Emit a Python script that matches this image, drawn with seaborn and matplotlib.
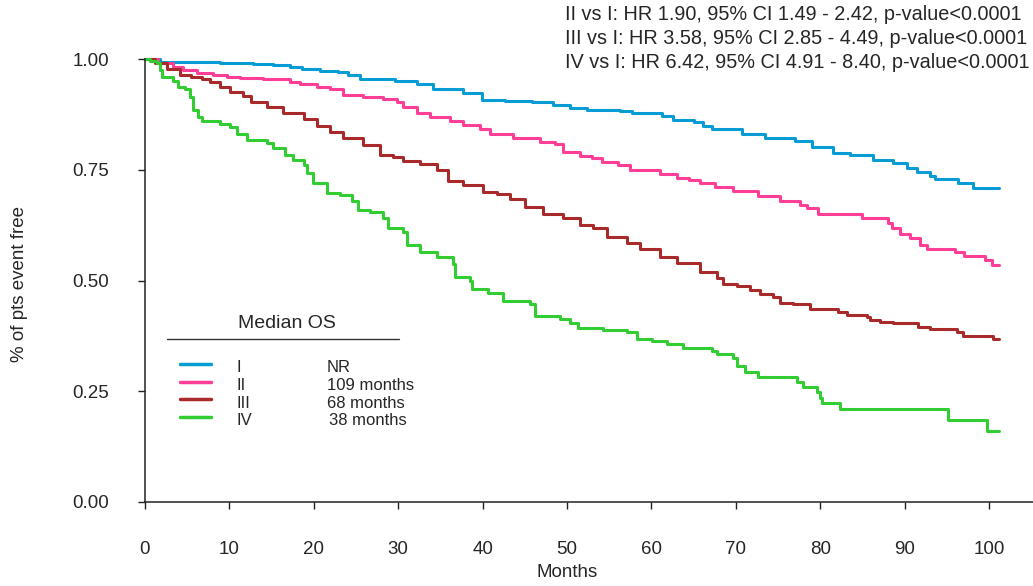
import pandas as pd
import matplotlib
matplotlib.use("Agg")
import matplotlib.pyplot as plt
import seaborn as sns

sns.set_style("ticks")
plt.rcParams["font.family"] = ["Liberation Sans", "DejaVu Sans"]

# groups, colours, legend text
stages = ["I", "II", "III", "IV"]
medians = ["NR", "109 months", "68 months", "38 months"]
colors = ["#079cd4", "#ff3f97", "#a82a2a", "#32cd32"]
hr_lines = [
    "II vs I: HR 1.90, 95% CI 1.49 - 2.42, p-value<0.0001",
    "III vs I: HR 3.58, 95% CI 2.85 - 4.49, p-value<0.0001",
    "IV vs I: HR 6.42, 95% CI 4.91 - 8.40, p-value<0.0001",
]

# Kaplan-Meier steps (month of step, new survival)
months_I = [0, 1.8, 8.9, 12.8, 15.2, 17.2, 18.6, 20.7, 22.9, 24.0, 25.5, 29.6, 32.2, 34.1,
            37.7, 39.9, 42.7, 45.9, 48.3, 50.4, 52.4, 56.3, 57.7, 61.3, 62.6, 65.0, 66.1,
            67.2, 70.7, 73.5, 77.0, 79.0, 81.5, 83.5, 86.3, 88.6, 90.3, 91.5, 93.0, 93.6,
            96.3, 98.1, 101.2]
surv_I = [1.0, 0.993, 0.990, 0.988, 0.986, 0.981, 0.977, 0.974, 0.971, 0.964, 0.954, 0.950,
          0.944, 0.932, 0.923, 0.907, 0.905, 0.902, 0.896, 0.890, 0.886, 0.883, 0.877, 0.872,
          0.862, 0.858, 0.849, 0.842, 0.830, 0.822, 0.815, 0.802, 0.788, 0.783, 0.773, 0.766,
          0.753, 0.745, 0.736, 0.728, 0.721, 0.708, 0.708]

months_II = [0, 1.5, 3.3, 4.5, 6.2, 8.1, 9.7, 11.3, 14.0, 17.2, 18.4, 20.4, 21.9, 23.5, 25.8,
             28.2, 29.8, 30.6, 32.2, 33.8, 36.1, 37.7, 39.7, 40.9, 43.6, 46.8, 48.6, 49.5,
             51.5, 53.0, 54.1, 56.0, 57.5, 61.0, 63.0, 64.5, 65.8, 67.5, 69.7, 72.6, 75.2,
             77.6, 78.4, 79.7, 85.0, 88.0, 88.5, 89.5, 90.6, 91.8, 92.6, 96.0, 97.0, 99.5,
             100.3, 101.2]
surv_II = [1.0, 0.990, 0.983, 0.975, 0.969, 0.965, 0.960, 0.957, 0.954, 0.949, 0.943, 0.937,
           0.932, 0.919, 0.915, 0.909, 0.904, 0.892, 0.877, 0.870, 0.860, 0.851, 0.841, 0.830,
           0.822, 0.813, 0.807, 0.790, 0.782, 0.776, 0.767, 0.761, 0.749, 0.740, 0.732, 0.726,
           0.719, 0.710, 0.702, 0.691, 0.679, 0.670, 0.663, 0.650, 0.640, 0.630, 0.618, 0.606,
           0.595, 0.580, 0.571, 0.565, 0.556, 0.546, 0.536, 0.536]

months_III = [0, 1.2, 2.6, 4.1, 5.5, 6.8, 7.7, 8.9, 10.1, 11.6, 12.6, 14.5, 16.4, 18.8, 20.4,
              21.9, 23.5, 25.8, 27.8, 29.4, 30.6, 32.6, 34.6, 35.9, 37.7, 40.0, 41.7, 43.2,
              45.0, 47.2, 49.5, 51.5, 53.1, 54.7, 57.1, 58.6, 61.0, 63.0, 65.8, 67.8, 68.5,
              70.1, 71.7, 72.9, 74.4, 75.2, 76.8, 78.8, 82.1, 83.2, 85.5, 85.9, 87.1, 88.6,
              90.9, 91.6, 93.0, 96.2, 96.9, 100.5, 101.2]
surv_III = [1.0, 0.990, 0.977, 0.964, 0.959, 0.954, 0.947, 0.937, 0.926, 0.916, 0.904, 0.892,
            0.877, 0.864, 0.849, 0.836, 0.821, 0.806, 0.783, 0.779, 0.770, 0.764, 0.749, 0.724,
            0.715, 0.700, 0.695, 0.683, 0.666, 0.650, 0.640, 0.625, 0.618, 0.599, 0.584, 0.572,
            0.553, 0.540, 0.520, 0.505, 0.492, 0.488, 0.478, 0.469, 0.462, 0.450, 0.447, 0.435,
            0.428, 0.422, 0.418, 0.410, 0.407, 0.404, 0.403, 0.394, 0.390, 0.384, 0.375, 0.367,
            0.367]

months_IV = [0, 0.6, 1.4, 1.8, 2.0, 3.3, 3.9, 4.7, 5.3, 5.7, 6.3, 6.8, 8.9, 10.1, 10.9, 12.1,
             14.5, 15.2, 16.6, 17.5, 18.8, 19.2, 19.9, 21.6, 23.1, 24.5, 25.2, 26.7, 28.2, 28.8,
             30.6, 31.0, 32.6, 34.6, 36.5, 36.7, 38.5, 38.7, 40.6, 42.4, 45.6, 46.2, 49.2, 50.4,
             51.3, 54.3, 57.1, 58.3, 60.1, 61.8, 63.7, 67.2, 67.8, 69.7, 70.1, 71.1, 72.6, 77.3,
             78.0, 79.6, 80.0, 80.2, 82.3, 95.1, 99.8, 101.2]
surv_IV = [1.0, 0.995, 0.990, 0.975, 0.960, 0.950, 0.937, 0.932, 0.915, 0.885, 0.870, 0.860,
           0.853, 0.846, 0.830, 0.817, 0.810, 0.798, 0.783, 0.772, 0.761, 0.742, 0.719, 0.697,
           0.693, 0.679, 0.659, 0.655, 0.640, 0.618, 0.610, 0.580, 0.565, 0.553, 0.537, 0.508,
           0.499, 0.480, 0.471, 0.454, 0.448, 0.420, 0.412, 0.403, 0.393, 0.388, 0.384, 0.369,
           0.363, 0.356, 0.348, 0.340, 0.334, 0.324, 0.307, 0.294, 0.282, 0.271, 0.260, 0.248,
           0.234, 0.224, 0.209, 0.186, 0.160, 0.160]

all_months = [months_I, months_II, months_III, months_IV]
all_surv = [surv_I, surv_II, surv_III, surv_IV]

df = pd.concat(
    [pd.DataFrame({"Months": t, "Survival": s, "Stage": st})
     for st, t, s in zip(stages, all_months, all_surv)],
    ignore_index=True,
)

W, H = 1033, 586
fig = plt.figure(figsize=(W / 100, H / 100), dpi=100)
ax = fig.add_axes([145 / W, 84 / H, 888 / W, 443 / H])


def fx(x):
    return x / W


def fy(y):
    return 1 - y / H


sns.lineplot(data=df, x="Months", y="Survival", hue="Stage",
             palette=dict(zip(stages, colors)), estimator=None, sort=False,
             drawstyle="steps-post", linewidth=2.2, legend=False, clip_on=False, ax=ax)

ax.set_xticks(range(0, 101, 10))
ax.set_yticks([0, 0.25, 0.5, 0.75, 1.0])
ax.set_yticklabels([f"{v:.2f}" for v in [0, 0.25, 0.5, 0.75, 1.0]])
ax.tick_params(axis="x", direction="out", length=5, width=1, pad=23, labelsize=13.5, color="#222")
ax.tick_params(axis="y", direction="out", length=5, width=1, pad=21, labelsize=13.5, color="#222")
sns.despine(ax=ax)
for side in ["left", "bottom"]:
    ax.spines[side].set_linewidth(1.1)
    ax.spines[side].set_color("#222")

ax.set_xlabel("Months", fontsize=13.5)
ax.xaxis.set_label_coords(50 / (888 / 8.44), -0.14)
ax.set_ylabel("% of pts event free", fontsize=13.5)
ax.yaxis.set_label_coords(-0.132, 0.492)

# hazard ratio block
for i, line in enumerate(hr_lines):
    fig.text(fx(565), fy(15 + 23.5 * i), line, ha="left", va="center", fontsize=14.3)

# legend with median OS
fig.text(fx(287), fy(323), "Median OS", ha="center", va="center", fontsize=14)
ax.plot([fx(167), fx(399)], [fy(339), fy(339)], transform=fig.transFigure,
        color="#333", lw=1, clip_on=False)
row_y = [364, 381.7, 399.3, 416.7]
med_x = [327, 327, 327, 329]
for st, med, col, yy, mx in zip(stages, medians, colors, row_y, med_x):
    ax.plot([fx(180), fx(211)], [fy(yy), fy(yy)], transform=fig.transFigure,
            color=col, lw=2.5, clip_on=False)
    fig.text(fx(237), fy(yy + 4), st, ha="left", va="center", fontsize=12)
    fig.text(fx(mx), fy(yy + 4), med, ha="left", va="center", fontsize=12)

ax.set_xlim(0, 888 / 8.44)
ax.set_ylim(0, 1)

fig.savefig("out.png", dpi=100)
